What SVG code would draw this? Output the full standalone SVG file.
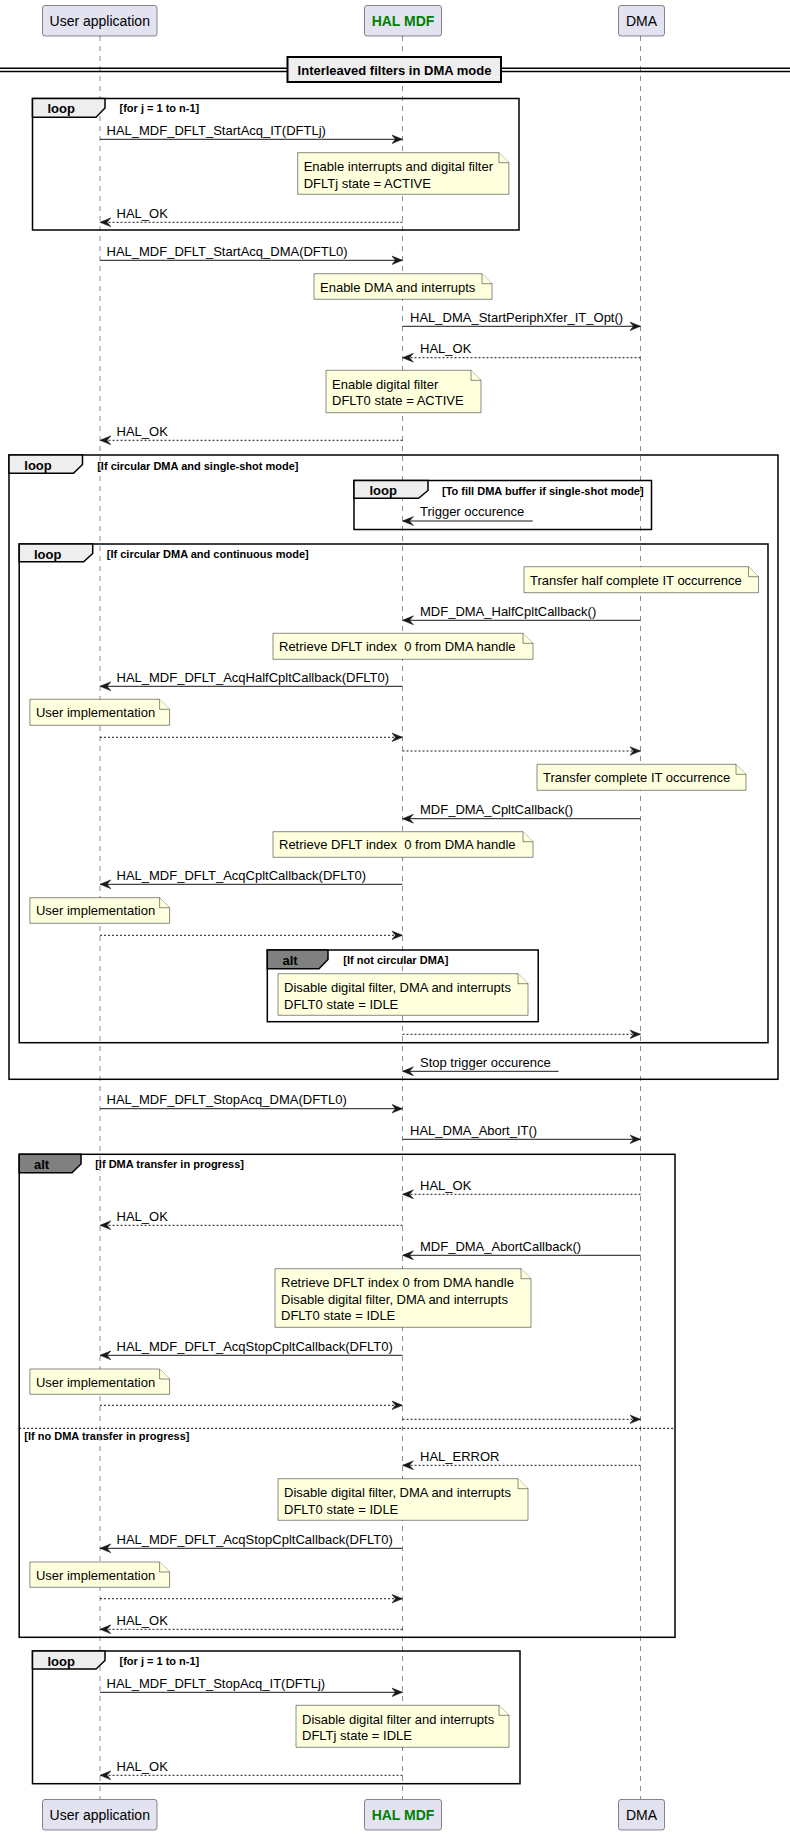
<svg xmlns="http://www.w3.org/2000/svg" width="790" height="1835" viewBox="0 0 790 1835">
<style>
text{font-family:"Liberation Sans",Arial,sans-serif;fill:#000}
.part{fill:#E2E2F0;stroke:#181818;stroke-width:0.5}
.pt{font-size:14px;text-anchor:middle}
.green{fill:#008000;font-weight:bold}
.life{stroke:#181818;stroke-width:0.5;stroke-dasharray:5,5}
.msg{font-size:13px}
.note{fill:#FEFFDD;stroke:#181818;stroke-width:0.5}
.frame{fill:none;stroke:#000;stroke-width:1.5}
.tab{fill:#EEEEEE;stroke:#000;stroke-width:1.5}
.tabalt{fill:#808080;stroke:#000;stroke-width:1.5}
.gt{font-size:13px;font-weight:bold}
.gc{font-size:11px;font-weight:bold}
.sol{stroke:#181818;stroke-width:1;fill:none}
.dot{stroke:#181818;stroke-width:1;fill:none;stroke-dasharray:2,2}
</style>
<defs>
<marker id="ah" viewBox="0 0 11 10" markerWidth="11" markerHeight="10" refX="11" refY="5" orient="auto" markerUnits="userSpaceOnUse">
<path d="M0,0.5 L11,5 L0,9.5 L4,5 Z" fill="#181818" stroke="#181818" stroke-width="0.5"/>
</marker>
</defs>

<g id="lifelines">
<line class="life" x1="100" y1="36" x2="100" y2="1799"/>
<line class="life" x1="402.5" y1="36" x2="402.5" y2="1799"/>
<line class="life" x1="640.5" y1="36" x2="640.5" y2="1799"/>
</g>

<g id="p-user">
<rect class="part" x="42.5" y="5.5" width="114.5" height="30.5" rx="2.5"/>
<text class="pt" x="99.75" y="26">User application</text>
<rect class="part" x="42.5" y="1799.5" width="114.5" height="30.5" rx="2.5"/>
<text class="pt" x="99.75" y="1820">User application</text>
</g>
<g id="p-hal">
<rect class="part" x="364.5" y="5.5" width="77" height="30.5" rx="2.5"/>
<text class="pt green" x="403" y="26">HAL MDF</text>
<rect class="part" x="364.5" y="1799.5" width="77" height="30.5" rx="2.5"/>
<text class="pt green" x="403" y="1820">HAL MDF</text>
</g>
<g id="p-dma">
<rect class="part" x="618.5" y="5.5" width="46" height="30.5" rx="2.5"/>
<text class="pt" x="641.5" y="26">DMA</text>
<rect class="part" x="618.5" y="1799.5" width="46" height="30.5" rx="2.5"/>
<text class="pt" x="641.5" y="1820">DMA</text>
</g>

<g id="divider">
<line x1="0" y1="68.3" x2="790" y2="68.3" stroke="#000" stroke-width="1.5"/>
<line x1="0" y1="71.6" x2="790" y2="71.6" stroke="#000" stroke-width="1.5"/>
<rect x="287.5" y="57" width="213.5" height="25" fill="#EEEEEE" stroke="#000" stroke-width="2"/>
<text class="gt" x="394.5" y="74.5" text-anchor="middle">Interleaved filters in DMA mode</text>
</g>

<g id="frames">
<g id="loop1">
<rect class="frame" x="32.5" y="98.5" width="486.5" height="131.5"/>
<path class="tab" d="M32.5,98.5 L105,98.5 L105,108 L96,117.3 L32.5,117.3 Z"/>
<text class="gt" x="47.5" y="113">loop</text>
<text class="gc" x="119.5" y="112">[for j = 1 to n-1]</text>
</g>
<g id="loop-single">
<rect class="frame" x="9" y="455" width="769" height="624.3"/>
<path class="tab" d="M9,455 L82.5,455 L82.5,464.5 L73.5,473.3 L9,473.3 Z"/>
<text class="gt" x="24.3" y="470">loop</text>
<text class="gc" x="97.2" y="469.5">[If circular DMA and single-shot mode]</text>
</g>
<g id="loop-fill">
<rect class="frame" x="354" y="480.5" width="297.5" height="49"/>
<path class="tab" d="M354,480.5 L428,480.5 L428,490.5 L418.5,498.3 L354,498.3 Z"/>
<text class="gt" x="369.5" y="495">loop</text>
<text class="gc" x="442" y="494.5">[To fill DMA buffer if single-shot mode]</text>
</g>
<g id="loop-cont">
<rect class="frame" x="19.2" y="544" width="748.8" height="498.7"/>
<path class="tab" d="M19.2,544 L92.7,544 L92.7,553.5 L83.7,561.7 L19.2,561.7 Z"/>
<text class="gt" x="34" y="558.5">loop</text>
<text class="gc" x="106.8" y="557.5">[If circular DMA and continuous mode]</text>
</g>
<g id="alt-notcirc">
<rect class="frame" x="267.3" y="950" width="270.9" height="71.7"/>
<path class="tabalt" d="M267.3,950 L328,950 L328,959.5 L319,968.7 L267.3,968.7 Z"/>
<text class="gt" x="282.5" y="964.5">alt</text>
<text class="gc" x="343.3" y="963.5">[If not circular DMA]</text>
</g>
<g id="alt-progress">
<rect class="frame" x="19.2" y="1154.3" width="655.8" height="483"/>
<path class="tabalt" d="M19.2,1154.3 L81,1154.3 L81,1164 L72,1172.7 L19.2,1172.7 Z"/>
<text class="gt" x="34" y="1169">alt</text>
<text class="gc" x="95.2" y="1168">[If DMA transfer in progress]</text>
<line x1="19.2" y1="1428.3" x2="675" y2="1428.3" stroke="#000" stroke-width="1" stroke-dasharray="2,2"/>
<text class="gc" x="24.3" y="1440">[If no DMA transfer in progress]</text>
</g>
<g id="loop2">
<rect class="frame" x="32.5" y="1651" width="487.5" height="132.7"/>
<path class="tab" d="M32.5,1651 L105,1651 L105,1660.5 L96,1669 L32.5,1669 Z"/>
<text class="gt" x="47.5" y="1665.5">loop</text>
<text class="gc" x="119.5" y="1664.5">[for j = 1 to n-1]</text>
</g>
</g>

<g id="notes">
<g id="n1"><path class="note" d="M297.7,152.7 L297.7,194.3 L508.9,194.3 L508.9,162.7 L498.9,152.7 Z"/><path class="note" d="M498.9,152.7 L498.9,162.7 L508.9,162.7"/>
<text class="msg" x="303.7" y="171">Enable interrupts and digital filter</text><text class="msg" x="303.7" y="187.6">DFLTj state = ACTIVE</text></g>
<g id="n2"><path class="note" d="M314,273.7 L314,299.3 L492,299.3 L492,283.7 L482,273.7 Z"/><path class="note" d="M482,273.7 L482,283.7 L492,283.7"/>
<text class="msg" x="320" y="291.5">Enable DMA and interrupts</text></g>
<g id="n3"><path class="note" d="M326,370.3 L326,412.7 L481,412.7 L481,380.3 L471,370.3 Z"/><path class="note" d="M471,370.3 L471,380.3 L481,380.3"/>
<text class="msg" x="332" y="388.5">Enable digital filter</text><text class="msg" x="332" y="405">DFLT0 state = ACTIVE</text></g>
<g id="n4"><path class="note" d="M524,566.7 L524,592.7 L758.5,592.7 L758.5,576.7 L748.5,566.7 Z"/><path class="note" d="M748.5,566.7 L748.5,576.7 L758.5,576.7"/>
<text class="msg" x="530" y="584.5">Transfer half complete IT occurrence</text></g>
<g id="n5"><path class="note" d="M273,633.3 L273,659.3 L533,659.3 L533,643.3 L523,633.3 Z"/><path class="note" d="M523,633.3 L523,643.3 L533,643.3"/>
<text class="msg" x="279" y="651" xml:space="preserve">Retrieve DFLT index  0 from DMA handle</text></g>
<g id="n6"><path class="note" d="M29.9,699.3 L29.9,725.3 L169.6,725.3 L169.6,709.3 L159.6,699.3 Z"/><path class="note" d="M159.6,699.3 L159.6,709.3 L169.6,709.3"/>
<text class="msg" x="35.9" y="717">User implementation</text></g>
<g id="n7"><path class="note" d="M537,764.3 L537,790.3 L746,790.3 L746,774.3 L736,764.3 Z"/><path class="note" d="M736,764.3 L736,774.3 L746,774.3"/>
<text class="msg" x="543" y="782">Transfer complete IT occurrence</text></g>
<g id="n8"><path class="note" d="M273,831.7 L273,857.3 L533,857.3 L533,841.7 L523,831.7 Z"/><path class="note" d="M523,831.7 L523,841.7 L533,841.7"/>
<text class="msg" x="279" y="849.3" xml:space="preserve">Retrieve DFLT index  0 from DMA handle</text></g>
<g id="n9"><path class="note" d="M29.9,897.7 L29.9,923.3 L169.6,923.3 L169.6,907.7 L159.6,897.7 Z"/><path class="note" d="M159.6,897.7 L159.6,907.7 L169.6,907.7"/>
<text class="msg" x="35.9" y="915.3">User implementation</text></g>
<g id="n10"><path class="note" d="M278,973.7 L278,1015.3 L528,1015.3 L528,983.7 L518,973.7 Z"/><path class="note" d="M518,973.7 L518,983.7 L528,983.7"/>
<text class="msg" x="284" y="992">Disable digital filter, DMA and interrupts</text><text class="msg" x="284" y="1008.5">DFLT0 state = IDLE</text></g>
<g id="n11"><path class="note" d="M275,1268.7 L275,1327.3 L531,1327.3 L531,1278.7 L521,1268.7 Z"/><path class="note" d="M521,1268.7 L521,1278.7 L531,1278.7"/>
<text class="msg" x="281" y="1287">Retrieve DFLT index 0 from DMA handle</text><text class="msg" x="281" y="1303.5">Disable digital filter, DMA and interrupts</text><text class="msg" x="281" y="1320">DFLT0 state = IDLE</text></g>
<g id="n12"><path class="note" d="M29.9,1369 L29.9,1394.3 L169.6,1394.3 L169.6,1379 L159.6,1369 Z"/><path class="note" d="M159.6,1369 L159.6,1379 L169.6,1379"/>
<text class="msg" x="35.9" y="1386.5">User implementation</text></g>
<g id="n13"><path class="note" d="M278,1478.7 L278,1520.3 L528,1520.3 L528,1488.7 L518,1478.7 Z"/><path class="note" d="M518,1478.7 L518,1488.7 L528,1488.7"/>
<text class="msg" x="284" y="1497">Disable digital filter, DMA and interrupts</text><text class="msg" x="284" y="1513.5">DFLT0 state = IDLE</text></g>
<g id="n14"><path class="note" d="M29.9,1562 L29.9,1587.3 L169.6,1587.3 L169.6,1572 L159.6,1562 Z"/><path class="note" d="M159.6,1562 L159.6,1572 L169.6,1572"/>
<text class="msg" x="35.9" y="1579.5">User implementation</text></g>
<g id="n15"><path class="note" d="M296,1705.3 L296,1747.3 L509,1747.3 L509,1715.3 L499,1705.3 Z"/><path class="note" d="M499,1705.3 L499,1715.3 L509,1715.3"/>
<text class="msg" x="302" y="1723.5">Disable digital filter and interrupts</text><text class="msg" x="302" y="1740">DFLTj state = IDLE</text></g>
</g>

<g id="connectors">
<line class="sol" x1="100" y1="139.3" x2="402.5" y2="139.3" marker-end="url(#ah)"/>
<text class="msg" x="106.5" y="134.5">HAL_MDF_DFLT_StartAcq_IT(DFTLj)</text>
<line class="dot" x1="402.5" y1="222.3" x2="100" y2="222.3" marker-end="url(#ah)"/>
<text class="msg" x="116.5" y="217.5">HAL_OK</text>
<line class="sol" x1="100" y1="260.3" x2="402.5" y2="260.3" marker-end="url(#ah)"/>
<text class="msg" x="106.5" y="255.5">HAL_MDF_DFLT_StartAcq_DMA(DFTL0)</text>
<line class="sol" x1="402.5" y1="326.3" x2="640.5" y2="326.3" marker-end="url(#ah)"/>
<text class="msg" x="410" y="321.5">HAL_DMA_StartPeriphXfer_IT_Opt()</text>
<line class="dot" x1="640.5" y1="357.7" x2="402.5" y2="357.7" marker-end="url(#ah)"/>
<text class="msg" x="420" y="353">HAL_OK</text>
<line class="dot" x1="402.5" y1="440.3" x2="100" y2="440.3" marker-end="url(#ah)"/>
<text class="msg" x="116.5" y="435.5">HAL_OK</text>
<line class="sol" x1="532.7" y1="521" x2="402.5" y2="521" marker-end="url(#ah)"/>
<text class="msg" x="420" y="516.3">Trigger occurence</text>
<line class="sol" x1="640.5" y1="620.3" x2="402.5" y2="620.3" marker-end="url(#ah)"/>
<text class="msg" x="420" y="615.5">MDF_DMA_HalfCpltCallback()</text>
<line class="sol" x1="402.5" y1="686.3" x2="100" y2="686.3" marker-end="url(#ah)"/>
<text class="msg" x="116.5" y="681.5">HAL_MDF_DFLT_AcqHalfCpltCallback(DFLT0)</text>
<line class="dot" x1="100" y1="737.3" x2="402.5" y2="737.3" marker-end="url(#ah)"/>
<line class="dot" x1="402.5" y1="751" x2="640.5" y2="751" marker-end="url(#ah)"/>
<line class="sol" x1="640.5" y1="818.7" x2="402.5" y2="818.7" marker-end="url(#ah)"/>
<text class="msg" x="420" y="814">MDF_DMA_CpltCallback()</text>
<line class="sol" x1="402.5" y1="884.3" x2="100" y2="884.3" marker-end="url(#ah)"/>
<text class="msg" x="116.5" y="879.5">HAL_MDF_DFLT_AcqCpltCallback(DFLT0)</text>
<line class="dot" x1="100" y1="935.3" x2="402.5" y2="935.3" marker-end="url(#ah)"/>
<line class="dot" x1="402.5" y1="1034.3" x2="640.5" y2="1034.3" marker-end="url(#ah)"/>
<line class="sol" x1="558.5" y1="1071.3" x2="402.5" y2="1071.3" marker-end="url(#ah)"/>
<text class="msg" x="420" y="1066.5">Stop trigger occurence</text>
<line class="sol" x1="100" y1="1108.7" x2="402.5" y2="1108.7" marker-end="url(#ah)"/>
<text class="msg" x="106.5" y="1104">HAL_MDF_DFLT_StopAcq_DMA(DFTL0)</text>
<line class="sol" x1="402.5" y1="1139.3" x2="640.5" y2="1139.3" marker-end="url(#ah)"/>
<text class="msg" x="410" y="1134.5">HAL_DMA_Abort_IT()</text>
<line class="dot" x1="640.5" y1="1194.3" x2="402.5" y2="1194.3" marker-end="url(#ah)"/>
<text class="msg" x="420" y="1189.5">HAL_OK</text>
<line class="dot" x1="402.5" y1="1225.3" x2="100" y2="1225.3" marker-end="url(#ah)"/>
<text class="msg" x="116.5" y="1220.5">HAL_OK</text>
<line class="sol" x1="640.5" y1="1255.3" x2="402.5" y2="1255.3" marker-end="url(#ah)"/>
<text class="msg" x="420" y="1250.5">MDF_DMA_AbortCallback()</text>
<line class="sol" x1="402.5" y1="1355.3" x2="100" y2="1355.3" marker-end="url(#ah)"/>
<text class="msg" x="116.5" y="1350.5">HAL_MDF_DFLT_AcqStopCpltCallback(DFLT0)</text>
<line class="dot" x1="100" y1="1405.3" x2="402.5" y2="1405.3" marker-end="url(#ah)"/>
<line class="dot" x1="402.5" y1="1419.3" x2="640.5" y2="1419.3" marker-end="url(#ah)"/>
<line class="dot" x1="640.5" y1="1465.3" x2="402.5" y2="1465.3" marker-end="url(#ah)"/>
<text class="msg" x="420" y="1460.5">HAL_ERROR</text>
<line class="sol" x1="402.5" y1="1548.3" x2="100" y2="1548.3" marker-end="url(#ah)"/>
<text class="msg" x="116.5" y="1543.5">HAL_MDF_DFLT_AcqStopCpltCallback(DFLT0)</text>
<line class="dot" x1="100" y1="1598.7" x2="402.5" y2="1598.7" marker-end="url(#ah)"/>
<line class="dot" x1="402.5" y1="1629.3" x2="100" y2="1629.3" marker-end="url(#ah)"/>
<text class="msg" x="116.5" y="1624.5">HAL_OK</text>
<line class="sol" x1="100" y1="1692.3" x2="402.5" y2="1692.3" marker-end="url(#ah)"/>
<text class="msg" x="106.5" y="1687.5">HAL_MDF_DFLT_StopAcq_IT(DFTLj)</text>
<line class="dot" x1="402.5" y1="1775.3" x2="100" y2="1775.3" marker-end="url(#ah)"/>
<text class="msg" x="116.5" y="1770.5">HAL_OK</text>
</g>
</svg>
